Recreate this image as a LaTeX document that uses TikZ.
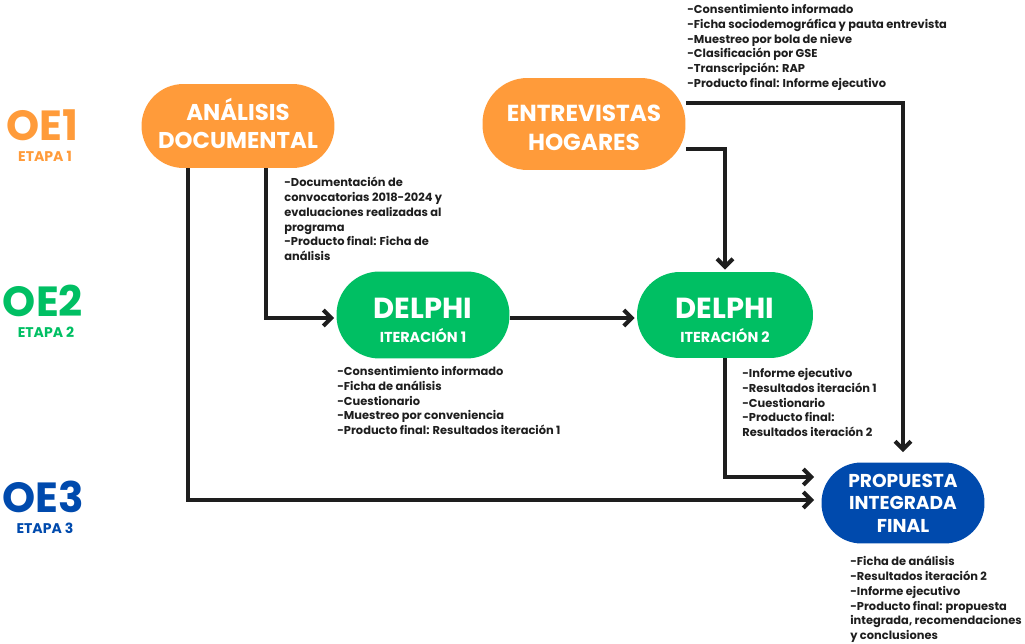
\documentclass[tikz,border=0pt]{standalone}
\usepackage{fontspec}
\setmainfont{Poppins}
\usetikzlibrary{calc}
\usetikzlibrary{arrows.meta}
\definecolor{naranjo}{HTML}{FF9B3A}
\definecolor{verde}{HTML}{00BF63}
\definecolor{azul}{HTML}{004AAD}
\definecolor{tinta}{HTML}{1E1E1E}
\newcommand{\iteracion}[1]{{\fontsize{16.5}{14}\selectfont\rule{0pt}{17.6pt}DELPHI}\\ITERACIÓN #1}

\begin{document}
\begin{tikzpicture}[x=0.02cm,y=-0.02cm,
    caja/.style={rounded corners=#1,inner sep=0pt,align=center,text=white},
    flecha/.style={line width=2.3pt,draw=tinta,-{Straight Barb[length=1.6mm,width=3.2mm]}},
    notas/.style={anchor=north west,inner sep=0pt,align=left,text=tinta,font=\bfseries\fontsize{6.5}{8.4}\selectfont},
    oe/.style={inner sep=0pt,font=\bfseries\fontsize{24}{24}\selectfont},
    etapa/.style={inner sep=0pt,font=\bfseries\fontsize{8}{8}\selectfont}]
                \useasboundingbox (0,0) rectangle (1025,644);

                % objetivos y etapas
                \node[oe,text=naranjo] (oe1) at (42,125) {OE1};
                \node[etapa,text=naranjo] (et1) at (45,156) {ETAPA 1};
                \node[oe,text=verde] (oe2) at (43,301) {OE2};
                \node[etapa,text=verde] (et2) at (46,332) {ETAPA 2};
                \node[oe,text=azul] (oe3) at (43,497) {OE3};
                \node[etapa,text=azul] (et3) at (45,528) {ETAPA 3};

                % cajas
                \node[caja=0.84cm,fill=naranjo,minimum width=3.86cm,minimum height=1.68cm,font=\bfseries\fontsize{13}{16}\selectfont] (ana) at (238,126) {ANÁLISIS\\DOCUMENTAL\rule[-3.4pt]{0pt}{0pt}};
                \node[caja=0.9cm,fill=naranjo,minimum width=4.06cm,minimum height=1.84cm,font=\bfseries\fontsize{13.2}{16.4}\selectfont] (ent) at (584,124) {\rule{0pt}{14pt}ENTREVISTAS\\HOGARES};
                \node[caja=0.86cm,fill=verde,minimum width=3.46cm,minimum height=1.74cm,font=\bfseries\fontsize{8.2}{14}\selectfont] (d1) at (423,315) {\iteracion{1}};
                \node[caja=0.86cm,fill=verde,minimum width=3.52cm,minimum height=1.72cm,font=\bfseries\fontsize{8.2}{14}\selectfont] (d2) at (725,315) {\iteracion{2}};
                \node[caja=0.8cm,fill=azul,minimum width=3.26cm,minimum height=1.62cm,font=\bfseries\fontsize{10.6}{12.8}\selectfont] (prop) at (903,503) {PROPUESTA\\INTEGRADA\\FINAL};

                % textos
                \node[notas] (txent) at (687,4) {-Consentimiento informado\\-Ficha sociodemográfica y pauta entrevista\\-Muestreo por bola de nieve\\-Clasificación por GSE\\-Transcripción: RAP\\-Producto final: Informe ejecutivo};
                \node[notas] (txana) at (284,177) {-Documentación de\\convocatorias 2018-2024 y\\evaluaciones realizadas al\\programa\\-Producto final: Ficha de\\análisis};
                \node[notas] (txd1) at (337,366) {-Consentimiento informado\\-Ficha de análisis\\-Cuestionario\\-Muestreo por conveniencia\\-Producto final: Resultados iteración 1};
                \node[notas] (txd2) at (742,368) {-Informe ejecutivo\\-Resultados iteración 1\\-Cuestionario\\-Producto final:\\Resultados iteración 2};
                \node[notas] (txprop) at (850,556) {-Ficha de análisis\\-Resultados iteración 2\\-Informe ejecutivo\\-Producto final: propuesta\\integrada, recomendaciones\\y conclusiones};

                % flechas
                \draw[flecha] ($(ana.south)+(-50,0)$) |- ($(prop.west)+(-7,-3)$);
                \draw[flecha] ($(ana.south)+(28,0)$) |- ($(d1.west)+(-2,3)$);
                \draw[flecha] ($(d1.east)+(0,3)$) -- ($(d2.west)+(-2,3)$);
                \draw[flecha] ($(ent.east)+(0,25)$) -| ($(d2.north)+(0,-2)$);
                \draw[flecha] ($(ent.east)+(0,-21)$) -| ($(prop.north)+(0,-10)$);
                \draw[flecha] (d2.south) |- ($(prop.west)+(-7,-26)$);

            \end{tikzpicture}
\end{document}
